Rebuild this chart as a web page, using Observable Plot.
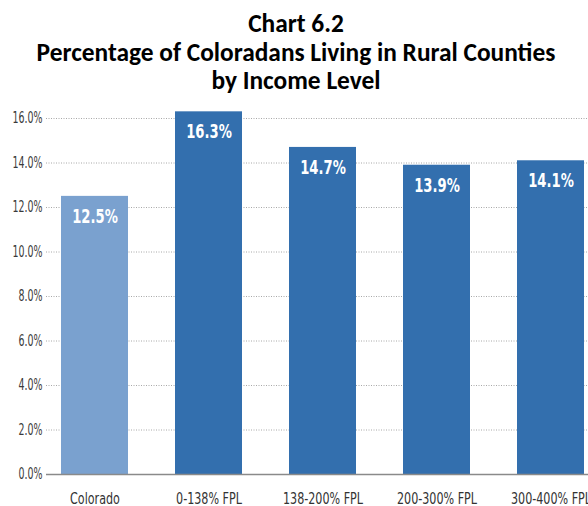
<!DOCTYPE html>
<html>
<head>
<meta charset="utf-8">
<script src="https://cdn.jsdelivr.net/npm/d3@7"></script>
<script src="https://cdn.jsdelivr.net/npm/@observablehq/plot@0.6"></script>
<style>
  html, body { margin: 0; padding: 0; background: #fff; }
  body { width: 588px; overflow: hidden; }
  #title { height: 95px; box-sizing: border-box; padding-top: 10px; padding-left: 4px; text-align: center;
           font-family: Carlito, "Open Sans", "Liberation Sans", sans-serif; font-weight: bold; color: #000; }
  #title div { line-height: 28.5px; white-space: nowrap; }
</style>
</head>
<body>
<div id="title"></div>
<div id="chart"></div>
<script>
const titleLines = ["Chart 6.2", "Percentage of Coloradans Living in Rural Counties", "by Income Level"];
const categories = ["Colorado", "0-138% FPL", "138-200% FPL", "200-300% FPL", "300-400% FPL"];
const values = [12.5, 16.3, 14.7, 13.9, 14.1];
const yTicks = [0, 2, 4, 6, 8, 10, 12, 14, 16];
const barColors = ["#7aa1cf", "#336fae", "#336fae", "#336fae", "#336fae"];

// title, sized so its widest line matches the reference width
const titleFont = 'Carlito, "Open Sans", "Liberation Sans", sans-serif';
const ctx = document.createElement("canvas").getContext("2d");
ctx.font = `bold 22px ${titleFont}`;
const widest = Math.max(...titleLines.map(t => ctx.measureText(t).width));
const titleSize = 22 * 519 / widest;
const titleEl = document.getElementById("title");
titleEl.style.fontSize = titleSize + "px";
for (const t of titleLines) {
  const d = document.createElement("div");
  d.textContent = t;
  titleEl.appendChild(d);
}

const data = categories.map((c, i) => ({category: c, value: values[i]}));
const narrow = '"DejaVu Sans Condensed", "DejaVu Sans", sans-serif';

const chart = Plot.plot({
  width: 588,
  height: 411,
  marginLeft: 46,
  marginRight: 0,
  marginTop: 23,
  marginBottom: 32,
  style: {fontFamily: narrow, fontSize: "13px", color: "#444", background: "#fff", overflow: "hidden"},
  x: {domain: categories, range: [25.65, 619.9], paddingInner: 0.41, paddingOuter: 0.3, label: null},
  y: {domain: [0, 16], label: null},
  color: {domain: categories, range: barColors},
  marks: [
    Plot.ruleY(yTicks.filter(d => d > 0), {stroke: "#a8a8a8", strokeWidth: 1, strokeDasharray: "1,1.5"}),
    Plot.barY(data, {x: "category", y: "value", fill: "category"}),
    Plot.ruleY([0], {stroke: "#8a8a8a", strokeWidth: 1.5}),
    Plot.text(data, {x: "category", y: "value", text: d => d.value.toFixed(1) + "%", dy: 20,
      lineAnchor: "middle", fill: "white", fontWeight: "bold", fontSize: 20}),
    Plot.axisY({ticks: yTicks, tickFormat: d => d.toFixed(1) + "%", tickSize: 0, tickPadding: 4,
      label: null, fontSize: 15, fill: "#3a3a3a"}),
    Plot.axisX({tickSize: 0, tickPadding: 18, label: null, fontSize: 15.5, fill: "#333"})
  ]
});
document.getElementById("chart").appendChild(chart);

// condense the glyphs horizontally, like the reference's narrow typeface
function condense(selector, factor) {
  d3.select(chart).selectAll(selector).each(function () {
    const w = this.getComputedTextLength();
    this.setAttribute("textLength", w * factor);
    this.setAttribute("lengthAdjust", "spacingAndGlyphs");
  });
}
condense("g[aria-label='text'] text", 0.73);
condense("g[aria-label='y-axis tick label'] text", 0.7);
condense("g[aria-label='x-axis tick label'] text", 0.8);
</script>
</body>
</html>
